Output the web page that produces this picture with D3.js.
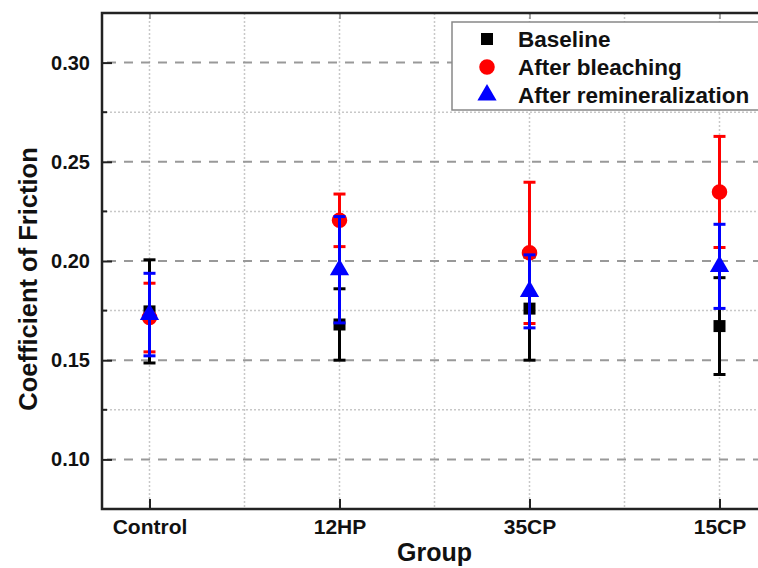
<!DOCTYPE html>
<html>
<head>
<meta charset="utf-8">
<script src="https://cdn.jsdelivr.net/npm/d3@7"></script>
<style>
  body { margin: 0; background: #fff; }
  text { font-family: "Liberation Sans", Arial, sans-serif; font-weight: bold; }
</style>
</head>
<body>
<svg id="chart" width="758" height="568"></svg>
<script>
// values
const groups = ["Control", "12HP", "35CP", "15CP"];
const baselineMean = [0.1746, 0.168, 0.176, 0.1672];
const baselineSD = [0.026, 0.018, 0.026, 0.0244];
const bleachMean = [0.1715, 0.2205, 0.2041, 0.2348];
const bleachSD = [0.0173, 0.01325, 0.0356, 0.028];
const reminMean = [0.173, 0.1956, 0.1847, 0.1973];
const reminSD = [0.0208, 0.0268, 0.0184, 0.0212];
const yTicks = [0.10, 0.15, 0.20, 0.25, 0.30];
const yMinor = [0.125, 0.175, 0.225, 0.275];

const pL = 102, pT = 13, pB = 509, pR = 767;

const svg = d3.select('#chart');

const x = d3.scaleLinear().domain([0.75, 4.25]).range([pL, pR]);
const y = d3.scaleLinear().domain([0.075, 0.325]).range([pB, pT]);

// grid
const grid = svg.append('g');
grid.selectAll('.vg')
  .data(d3.range(1, 4.5, 0.5))
  .enter().append('line')
  .attr('x1', d => x(d)).attr('x2', d => x(d))
  .attr('y1', pT).attr('y2', pB)
  .attr('stroke', '#c8c8c8').attr('stroke-width', 1.5)
  .attr('stroke-dasharray', '2,2');
grid.selectAll('.hm')
  .data(yMinor)
  .enter().append('line')
  .attr('x1', pL).attr('x2', pR)
  .attr('y1', d => y(d)).attr('y2', d => y(d))
  .attr('stroke', '#c8c8c8').attr('stroke-width', 1.5)
  .attr('stroke-dasharray', '2,2');
grid.selectAll('.hM')
  .data(yTicks)
  .enter().append('line')
  .attr('x1', pL).attr('x2', pR)
  .attr('y1', d => y(d)).attr('y2', d => y(d))
  .attr('stroke', '#999').attr('stroke-width', 2)
  .attr('stroke-dasharray', '9,8')
  .attr('stroke-dashoffset', -5);

// axes
const yAxis = d3.axisLeft(y).tickValues(yTicks).tickFormat(d3.format('.2f'))
  .tickSizeInner(-10).tickSizeOuter(0).tickPadding(12);
const yg = svg.append('g').attr('transform', `translate(${pL},0)`).call(yAxis);
yg.selectAll('.tick line').attr('stroke', '#222').attr('stroke-width', 2);
yg.selectAll('.tick text').attr('font-size', 20).attr('fill', '#111')
  .attr('font-family', '"Liberation Sans", Arial, sans-serif').attr('font-weight', 'bold');
yg.select('.domain').remove();
svg.append('g').selectAll('line').data(yMinor).enter().append('line')
  .attr('x1', pL).attr('x2', pL + 5)
  .attr('y1', d => y(d)).attr('y2', d => y(d))
  .attr('stroke', '#222').attr('stroke-width', 2);

const xAxis = d3.axisBottom(x).tickValues([1, 2, 3, 4]).tickFormat(d => groups[d - 1])
  .tickSizeInner(-10).tickSizeOuter(0).tickPadding(10);
const xg = svg.append('g').attr('transform', `translate(0,${pB})`).call(xAxis);
xg.selectAll('.tick line').attr('stroke', '#222').attr('stroke-width', 2);
xg.selectAll('.tick text').attr('font-size', 21).attr('fill', '#111')
  .attr('font-family', '"Liberation Sans", Arial, sans-serif').attr('font-weight', 'bold');
xg.select('.domain').remove();

const xTop = d3.axisTop(x).tickValues([1, 2, 3, 4]).tickFormat('').tickSizeInner(-6).tickSizeOuter(0);
const xtg = svg.append('g').attr('transform', `translate(0,${pT})`).call(xTop);
xtg.selectAll('.tick line').attr('stroke', '#888').attr('stroke-width', 1.5);
xtg.select('.domain').remove();

// frame
svg.append('path')
  .attr('d', `M${pR},${pT}H${pL}V${pB}H${pR}`)
  .attr('fill', 'none').attr('stroke', '#222').attr('stroke-width', 2.5);

// axis titles
svg.append('text')
  .attr('x', (pL + pR) / 2).attr('y', 561)
  .attr('text-anchor', 'middle').attr('font-size', 25).attr('fill', '#111')
  .text('Group');
svg.append('text')
  .attr('transform', `translate(37,279) rotate(-90)`)
  .attr('text-anchor', 'middle').attr('font-size', 25.5).attr('fill', '#111')
  .text('Coefficient of Friction');

// series
const series = [
  { name: 'Baseline', mean: baselineMean, sd: baselineSD, color: '#000', sym: d3.symbolSquare, size: 144 },
  { name: 'After bleaching', mean: bleachMean, sd: bleachSD, color: '#ff0000', sym: d3.symbolCircle, size: 190 },
  { name: 'After remineralization', mean: reminMean, sd: reminSD, color: '#0000ff', sym: d3.symbolTriangle, size: 160 }
];

const capW = 6;
series.forEach(s => {
  const g = svg.append('g');
  const data = s.mean.map((m, i) => ({ i: i + 1, m: m, sd: s.sd[i] }));
  g.selectAll('.stem').data(data).enter().append('line')
    .attr('x1', d => x(d.i)).attr('x2', d => x(d.i))
    .attr('y1', d => y(d.m + d.sd)).attr('y2', d => y(d.m - d.sd))
    .attr('stroke', s.color).attr('stroke-width', 3);
  g.selectAll('.capT').data(data).enter().append('line')
    .attr('x1', d => x(d.i) - capW).attr('x2', d => x(d.i) + capW)
    .attr('y1', d => y(d.m + d.sd)).attr('y2', d => y(d.m + d.sd))
    .attr('stroke', s.color).attr('stroke-width', 3);
  g.selectAll('.capB').data(data).enter().append('line')
    .attr('x1', d => x(d.i) - capW).attr('x2', d => x(d.i) + capW)
    .attr('y1', d => y(d.m - d.sd)).attr('y2', d => y(d.m - d.sd))
    .attr('stroke', s.color).attr('stroke-width', 3);
  g.selectAll('.mk').data(data).enter().append('path')
    .attr('d', d3.symbol().type(s.sym).size(s.size))
    .attr('transform', d => `translate(${x(d.i)},${y(d.m)})`)
    .attr('fill', s.color);
});

// legend
const lg = svg.append('g');
lg.append('rect')
  .attr('x', 452).attr('y', 22).attr('width', 330).attr('height', 88)
  .attr('fill', '#fff').attr('stroke', '#888').attr('stroke-width', 1.5);
series.forEach((s, k) => {
  const cy = 39 + k * 28;
  lg.append('path')
    .attr('d', d3.symbol().type(s.sym).size(s.size))
    .attr('transform', `translate(487,${cy})`)
    .attr('fill', s.color);
  lg.append('text')
    .attr('x', 518).attr('y', cy + 8)
    .attr('font-size', 22.5).attr('fill', '#111')
    .text(s.name);
});
</script>
</body>
</html>
